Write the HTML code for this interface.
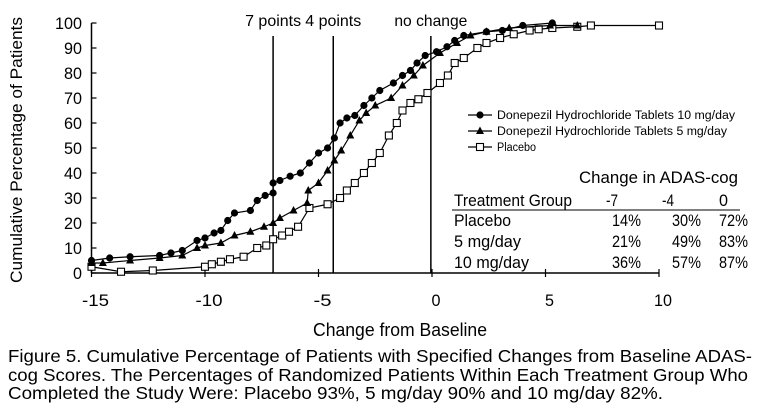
<!DOCTYPE html>
<html><head><meta charset="utf-8"><style>
body{margin:0;background:#fff;width:758px;height:419px;overflow:hidden}
svg text{font-family:"Liberation Sans",Arial,sans-serif}
</style></head><body>
<svg width="758" height="419" viewBox="0 0 758 419" style="position:absolute;left:0;top:0">
<g id="axes"></g><g id="series"></g>
<text x="8" y="362" font-size="17.5" textLength="744" lengthAdjust="spacingAndGlyphs">Figure 5. Cumulative Percentage of Patients with Specified Changes from Baseline ADAS-</text>
<text x="8" y="381" font-size="17.5" textLength="740" lengthAdjust="spacingAndGlyphs">cog Scores. The Percentages of Randomized Patients Within Each Treatment Group Who</text>
<text x="8" y="399" font-size="17.5" textLength="655" lengthAdjust="spacingAndGlyphs">Completed the Study Were: Placebo 93%, 5 mg/day 90% and 10 mg/day 82%.</text>
</svg>
<script>
const xTicks=[-15,-10,-5,0,5,10];
const yTicks=[0,10,20,30,40,50,60,70,80,90,100];
const refLines=[-7,-4.35,-0.05];
const refLabels=["7 points","4 points","no change"];
const mg10X=[-15,-14.2,-13.3,-12,-11.5,-11,-10.35,-10,-9.6,-9.3,-9.0,-8.7,-8.0,-7.7,-7.35,-7.0,-7.0,-6.7,-6.25,-5.8,-5.4,-5.0,-4.6,-4.3,-4.05,-3.75,-3.4,-3.0,-2.65,-2.3,-1.7,-1.3,-0.95,-0.66,-0.3,0.2,0.66,1.0,1.4,2.4,3.1,4.0,5.3];
const mg10Y=[5,6,6.5,7,8,9,13,14,16,17,21,24,25,29,31,32,36,37,38.7,40,44,48,50,54,60,62,63,67,70,73,76,79,81,84,87,88.5,90.5,93,95,96.5,97,99,100];
const mg5X=[-15,-14.5,-13.3,-12,-11,-10.35,-10,-9.3,-8.7,-8.0,-7.4,-7.0,-6.7,-6.1,-5.5,-5.45,-5.0,-4.6,-4.3,-4.0,-3.6,-3.2,-2.9,-2.5,-1.8,-1.3,-0.8,-0.4,0.35,1.1,1.7,2.4,3.4,5.2,6.4];
const mg5Y=[4,4,5,6,7,10,11,12,15,16.5,18.5,20,22,25,28,33,36,41,45,49,55,61,64,67,70,75,79,83,88,92,95,96.5,98,99,99];
const plcX=[-15,-13.7,-12.3,-10,-9.7,-9.3,-8.9,-8.3,-7.7,-7.3,-7.0,-6.6,-6.3,-5.9,-5.4,-4.6,-4.05,-3.75,-3.4,-3.0,-2.65,-2.3,-1.9,-1.55,-1.3,-0.95,-0.6,-0.2,0.35,0.7,1.0,1.4,2.0,2.4,3.0,3.6,4.3,4.7,5.3,6.4,7.0,10.0];
const plcY=[2.5,0.5,1,2.5,3.5,4.5,5.5,6.5,10,11,13.5,15,16.5,18.5,26,27.5,30,33,36,40,44,48,55,60,65,68,69.5,72,76,79,84,86,90,92,94,95.5,97,97.5,98,98.5,99,99];
const tblHead=["Treatment Group","-7","-4","0"];
const tblRows=[["Placebo","14%","30%","72%"],["5 mg/day","21%","49%","83%"],["10 mg/day","36%","57%","87%"]];
const legendLabels=["Donepezil Hydrochloride Tablets 10 mg/day","Donepezil Hydrochloride Tablets 5 mg/day","Placebo"];

const NS="http://www.w3.org/2000/svg";
const X=v=>432+22.7*v, Y=v=>273-2.5*v;
const ax=document.getElementById('axes'), sr=document.getElementById('series');
function mk(t,a,p){const e=document.createElementNS(NS,t);for(const k in a)e.setAttribute(k,a[k]);p.appendChild(e);return e;}
function tx(s,x,y,size,anchor,p,len,extra){const a=Object.assign({x:x,y:y,'font-size':size,'text-anchor':anchor||'start',fill:'#000'},extra||{});
 if(len){a.textLength=len;a.lengthAdjust='spacingAndGlyphs';}
 const e=mk('text',a,p);e.textContent=s;return e;}

let e=mk('line',{x1:X(-15),y1:Y(0),x2:X(10),y2:Y(0),stroke:'#000','stroke-width':1.5},ax);


e=mk('line',{x1:X(-15),y1:Y(0),x2:X(-15),y2:Y(100),stroke:'#000','stroke-width':1.5},ax);


xTicks.forEach(v=>{
 mk('line',{x1:X(v),y1:Y(0)-4,x2:X(v),y2:Y(0)+4,stroke:'#000','stroke-width':1.2},ax);
 const s=String(v);
 const t=tx(s,X(v)+4,306,17,'middle',ax,s.length*9);
 
 
});
yTicks.forEach(v=>{
 mk('line',{x1:X(-15),y1:Y(v),x2:X(-15)+5,y2:Y(v),stroke:'#000','stroke-width':1.2},ax);
 const s=String(v);
 const t=tx(s,82,Y(v)+6,17,'end',ax,s.length*9);
 
 
});
const refLen=[56,56,73];
refLines.forEach((v,i)=>{
 const l=mk('line',{x1:X(v),y1:Y(0),x2:X(v),y2:36,stroke:'#000','stroke-width':1.5},ax);
 
 
 const t=tx(refLabels[i],X(v),26,16,'middle',ax,refLen[i]);
 
 
});
let t=tx('Change from Baseline',400,336,18,'middle',ax,174);


t=tx('Cumulative Percentage of Patients',0,0,17,'middle',ax,266,{transform:'translate(22,150) rotate(-90)'});



function series(xs,ys,kind,name){
 const g=mk('g',{},sr);
 
 
 mk('polyline',{points:xs.map((x,i)=>X(x)+','+Y(ys[i])).join(' '),fill:'none',stroke:'#000','stroke-width':1.2},g);
 xs.forEach((x,i)=>marker(X(x),Y(ys[i]),kind,g));
}
function marker(cx,cy,kind,g){
 if(kind==='c')mk('circle',{cx:cx,cy:cy,r:3.6,fill:'#000'},g);
 else if(kind==='t')mk('polygon',{points:`${cx},${cy-4.5} ${cx-4},${cy+3} ${cx+4},${cy+3}`,fill:'#000'},g);
 else mk('rect',{x:cx-3.5,y:cy-3.5,width:7,height:7,fill:'#fff',stroke:'#000','stroke-width':1.1},g);
}
series(plcX,plcY,'s','placebo-series');
series(mg5X,mg5Y,'t','5mg-series');
series(mg10X,mg10Y,'c','10mg-series');

const legLen=[238,230,39];
['c','t','s'].forEach((k,i)=>{
 const g=mk('g',{},ax);
 
 
 const y=115+16*i;
 mk('line',{x1:468,y1:y,x2:492,y2:y,stroke:'#000','stroke-width':1.2},g);
 marker(480,y,k,g);
 tx(legendLabels[i],497,y+4,11.5,'start',g,legLen[i]);
});
t=tx('Change in ADAS-cog',579,183,17,'start',ax,159);


const colX=[454,618,674,728];
const headLen=[118,12,12,9];
tblHead.forEach((h,i)=>{const q=tx(h,colX[i],206,17,i?'end':'start',ax,headLen[i]);
 
 });
mk('line',{x1:452,y1:210,x2:740,y2:210,stroke:'#000','stroke-width':1},ax);
const valX=[454,641,701,748];
const rowLen=[57,67,75];
tblRows.forEach((r,j)=>r.forEach((c,i)=>{const q=tx(c,valX[i],226+21*j,17,i?'end':'start',ax,i?29:rowLen[j]);
 
 }));
</script>
</body></html>
